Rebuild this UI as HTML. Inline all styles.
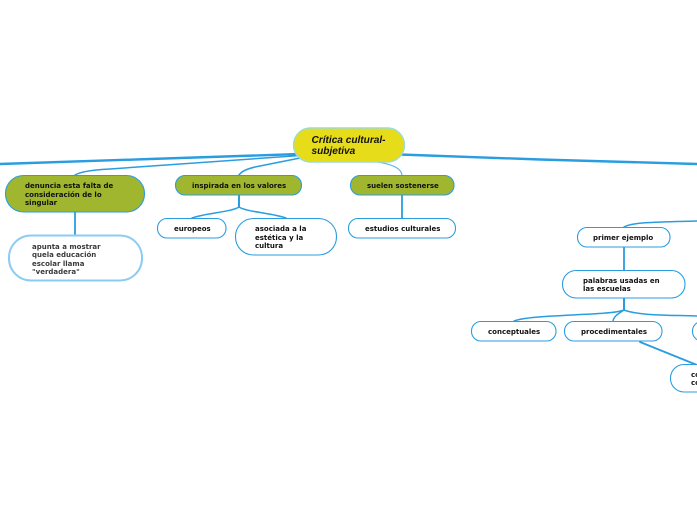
<!DOCTYPE html>
<html><head><meta charset="utf-8"><style>
html,body{margin:0;padding:0;background:#fff;width:697px;height:520px;overflow:hidden}
svg{display:block}
text{font-family:"DejaVu Sans",sans-serif;font-weight:700;font-size:7px;fill:#111}
.c{font-family:"Liberation Sans",sans-serif;font-style:italic;font-size:10.1px;fill:#111}
.s{fill:#3a3a3a;filter:blur(.35px)}
</style></head><body>
<svg width="697" height="520" viewBox="0 0 697 520" xmlns="http://www.w3.org/2000/svg">
<g fill="none" stroke="#2a9de0" stroke-linecap="round">
<path d="M300 154 L150 159 L0 164" stroke-width="2.4"/>
<path d="M300 155.500 L110 169 C90 170 80 172 75 175" stroke-width="1.500"/>
<path d="M300 158 L255 167 C246 169 241 172 239 175" stroke-width="1.600"/>
<path d="M378 162 C395 165 401 169 402 175" stroke-width="1.200" stroke="#5ab5e8"/>
<path d="M400 154.500 L540 159.500 L697 164" stroke-width="2.400"/>
<path d="M75 212V235" stroke-width="1.800"/>
<path d="M239 195V207" stroke-width="2"/>
<path d="M239 207C232 212 205 213 192 218" stroke-width="1.500"/>
<path d="M239 207C246 212 273 213 286 218" stroke-width="1.500"/>
<path d="M402 195V218" stroke-width="1.800"/>
<path d="M697 221C660 222 632 222 624 227" stroke-width="1.500"/>
<path d="M624 247V270" stroke-width="1.800"/>
<path d="M624 298V310" stroke-width="2"/>
<path d="M624 310C610 316 530 314 514 321" stroke-width="1.500"/>
<path d="M624 310C618 314 614 316 613 321" stroke-width="1.500"/>
<path d="M624 310C640 316 670 315 697 316" stroke-width="1.500"/>
<path d="M640 342L697 365" stroke-width="1.800"/>
</g>
<rect x="293.500" y="128" width="111" height="34" rx="17" fill="#e6dc1a" stroke="#9edbd0" stroke-width="1.400"/>
<text class="c" x="311.500" y="143">Crítica cultural-</text>
<text class="c" x="311.500" y="154">subjetiva</text>
<g fill="#9fb62e" stroke="#2a9de0" stroke-width="1.100">
<rect x="5.500" y="175.500" width="139" height="36.500" rx="18"/>
<rect x="175.500" y="175.500" width="126" height="19.500" rx="9.500"/>
<rect x="350.500" y="175.500" width="103.500" height="19.500" rx="9.500"/>
</g>
<rect x="9" y="235.500" width="133" height="45" rx="22" fill="#fff" stroke="#8ccbf2" stroke-width="2"/>
<g fill="#fff" stroke="#2a9de0" stroke-width="1.100">
<rect x="157.500" y="218.500" width="68.500" height="19.500" rx="9.500"/>
<rect x="235.500" y="218.500" width="101" height="36.500" rx="18"/>
<rect x="348.500" y="218.500" width="107" height="19.500" rx="9.500"/>
<rect x="577.500" y="227.500" width="92.500" height="19.500" rx="9.500"/>
<rect x="562.500" y="270.500" width="122.500" height="27.500" rx="13.500"/>
<rect x="471.500" y="321.500" width="84.500" height="19.500" rx="9.500"/>
<rect x="564.500" y="321.500" width="97.500" height="19.500" rx="9.500"/>
<rect x="692.500" y="321.500" width="40" height="19.500" rx="9.500"/>
<rect x="670.500" y="364.500" width="60" height="27.500" rx="13.500"/>
</g>
<text x="25" y="188">denuncia esta falta de</text>
<text x="25" y="197">consideración de lo</text>
<text x="25" y="205">singular</text>
<text x="192" y="188">inspirada en los valores</text>
<text x="367" y="188">suelen sostenerse</text>
<text class="s" x="32" y="249">apunta a mostrar</text>
<text class="s" x="32" y="257">quela educación</text>
<text class="s" x="32" y="266">escolar llama</text>
<text class="s" x="32" y="274">"verdadera"</text>
<text x="174" y="231">europeos</text>
<text x="255" y="231">asociada a la</text>
<text x="255" y="240">estética y la</text>
<text x="255" y="248">cultura</text>
<text x="365" y="231">estudios culturales</text>
<text x="593" y="240">primer ejemplo</text>
<text x="583" y="283">palabras usadas en</text>
<text x="583" y="291">las escuelas</text>
<text x="488" y="334">conceptuales</text>
<text x="581" y="334">procedimentales</text>
<text x="691" y="377">co</text>
<text x="691" y="385">co</text>
</svg>
</body></html>
